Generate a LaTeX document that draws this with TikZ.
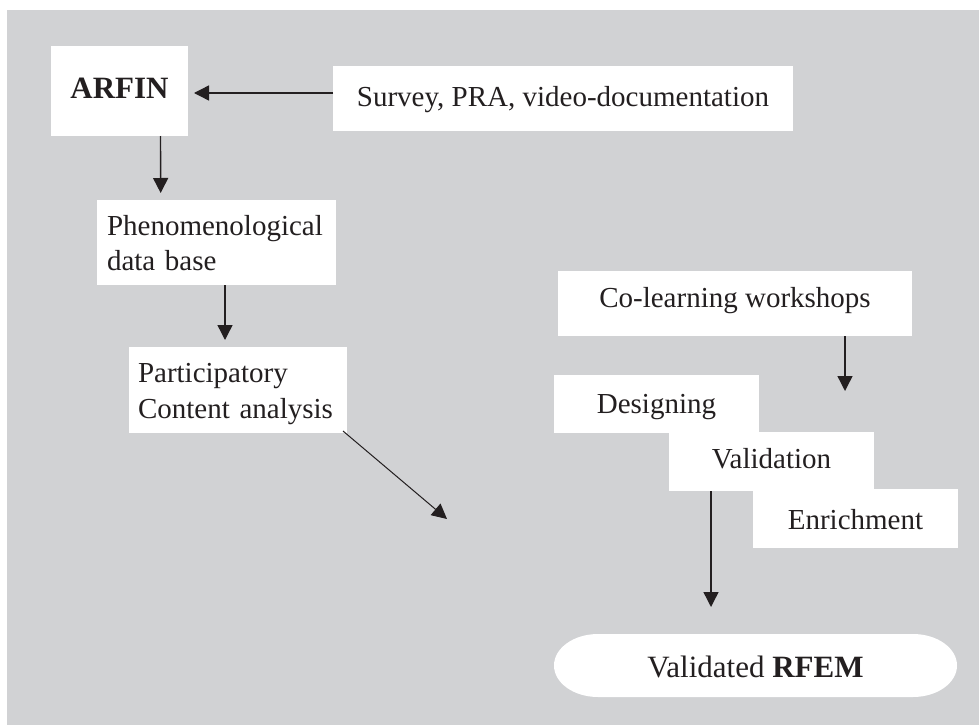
\documentclass[tikz,border=0pt]{standalone}
\usepackage{fontspec}
\setmainfont{Liberation Serif}
\usetikzlibrary{arrows.meta}
\definecolor{bggray}{HTML}{D1D2D4}
\definecolor{ink}{HTML}{231F20}
\begin{document}
\begin{tikzpicture}[x=1pt,y=-1pt,
  box/.style={fill=white, inner sep=0pt, outer sep=0pt, text=ink,
    font=\fontsize{29}{35}\selectfont, text depth=0pt},
  arr/.style={draw=ink, line width=1.4pt, -{Triangle[length=15pt,width=15pt]}},
]
\useasboundingbox (0,0) rectangle (979,725);
\fill[bggray] (7,10) rectangle (979,725);

\node[box, minimum width=137pt, minimum height=90pt, text height=14pt,
  font=\fontsize{31}{37}\selectfont\bfseries] (arfin) at (119.5,91) {ARFIN};
\node[box, minimum width=460pt, minimum height=65pt, text height=15pt] (survey) at (563,98.5) {Survey, PRA, video-documentation};
\node[box, text width=219pt, inner xsep=10pt, align=left, minimum width=239pt,
  minimum height=85pt, text height=20pt, text depth=35pt] (phen) at (216.5,242.5) {Phenomenological\\data base};
\node[box, text width=200pt, inner xsep=9pt, align=left, minimum width=218pt,
  minimum height=86pt, text height=20pt, text depth=36pt,
  font=\fontsize{29}{36}\selectfont] (part) at (238,390) {Participatory\\Content analysis};
\node[box, minimum width=354pt, minimum height=65pt, text height=8pt] (co) at (735,303.5) {Co-learning workshops};
\node[box, minimum width=205pt, minimum height=58pt, text height=18pt] (design) at (656.5,404) {Designing};
\node[box, minimum width=205pt, minimum height=59pt, text height=13pt] (valid) at (771.5,461.5) {Validation};
\node[box, minimum width=205pt, minimum height=59pt, text height=21pt] (enrich) at (855.5,518.5) {Enrichment};

\fill[white] (598,634) -- (913,634) arc[start angle=90,end angle=-90,x radius=44pt,y radius=31.5pt]
  -- (598,697) arc[start angle=270,end angle=90,x radius=44pt,y radius=31.5pt] -- cycle;
\node[inner sep=0pt, outer sep=0pt, text=ink, font=\fontsize{31}{37}\selectfont,
  minimum width=403pt, minimum height=63pt, text height=23pt, text depth=0pt]
  (rfem) at (755.5,665.5) {Validated \textbf{RFEM}};

\coordinate (diagend) at (447,519);
\coordinate (coend) at (845,391);

\draw[arr, shorten >=6pt] ([yshift=5.5pt]survey.west) -- ([yshift=-2pt]arfin.east);
\draw[arr, shorten >=7pt] ([xshift=41pt]arfin.south) -- ([xshift=-55.8pt]phen.north);
\draw[arr, shorten >=7pt] ([xshift=8.5pt]phen.south) -- ([xshift=-13pt]part.north);
\draw[arr, line width=1pt] ([shift={(-4pt,2pt)}]part.south east) -- (diagend);
\draw[arr] ([xshift=110pt]co.south) -- (coend);
\draw[arr, shorten >=27pt] ([xshift=-60.5pt]valid.south) -- ([xshift=-44.5pt]rfem.north);
\end{tikzpicture}
\end{document}
